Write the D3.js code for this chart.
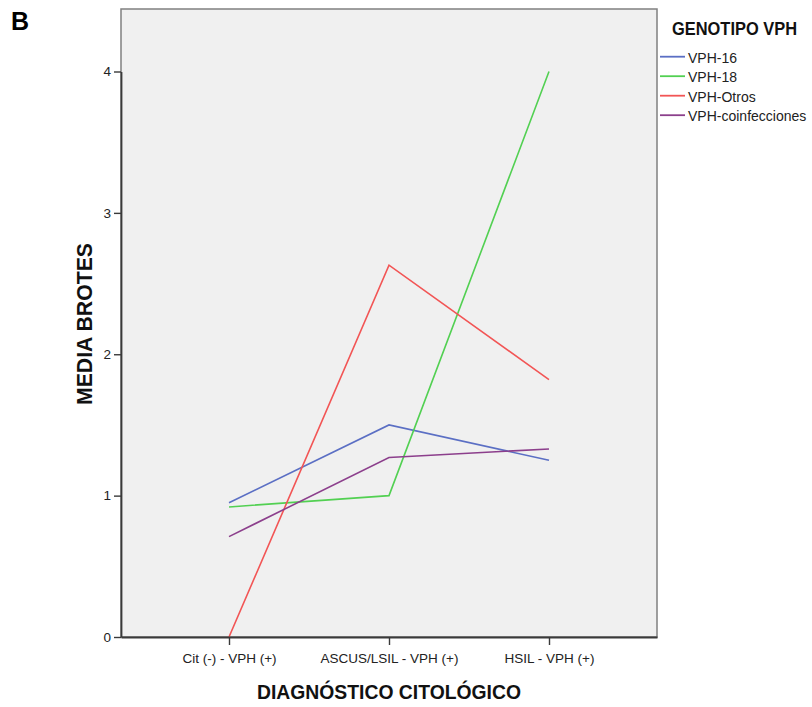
<!DOCTYPE html>
<html><head><meta charset="utf-8">
<script src="https://cdn.jsdelivr.net/npm/d3@7"></script>
<style>body{margin:0;background:#fff}svg{display:block}</style>
</head><body>
<script>
const categories = ["Cit (-) - VPH (+)", "ASCUS/LSIL - VPH (+)", "HSIL - VPH (+)"];
const seriesNames = ["VPH-16", "VPH-18", "VPH-Otros", "VPH-coinfecciones"];
const vph16 = [0.95, 1.50, 1.25];
const vph18 = [0.92, 1.00, 4.00];
const vphOtros = [0.00, 2.63, 1.82];
const vphCoinf = [0.71, 1.27, 1.33];
const yTicks = [0, 1, 2, 3, 4];
const colors = ["#5b6fc4", "#52d052", "#f25555", "#8c3f8c"];
const seriesValues = [vph16, vph18, vphOtros, vphCoinf];

const W = 812, H = 707;
const L = 121, R = 657, T = 9, B = 637;
const svg = d3.select("body").append("svg").attr("width", W).attr("height", H);
const font = "Liberation Sans, Arial, sans-serif";

const x = d3.scalePoint().domain(categories).range([L, R]).padding(0.675);
const y = d3.scaleLinear().domain([0, 4]).range([B, 71.5]);

svg.append("rect").attr("x", L).attr("y", T).attr("width", R - L).attr("height", B - T)
  .attr("fill", "#f0f0f0").attr("stroke", "#808080").attr("stroke-width", 1.5);

const line = d3.line().x((d, i) => x(categories[i])).y(d => y(d));
seriesValues.forEach((vals, k) => {
  svg.append("path").datum(vals).attr("d", line).attr("fill", "none")
    .attr("stroke", colors[k]).attr("stroke-width", 1.6);
});

const yAxis = svg.append("g").attr("transform", `translate(${L},0)`)
  .call(d3.axisLeft(y).tickValues(yTicks).tickSize(7).tickSizeOuter(0).tickPadding(3).tickFormat(d3.format("d")));
const xAxis = svg.append("g").attr("transform", `translate(0,${B})`)
  .call(d3.axisBottom(x).tickSize(8).tickSizeOuter(0).tickPadding(8));
[yAxis, xAxis].forEach(g => {
  g.select(".domain").attr("stroke", "#3a3a3a").attr("stroke-width", 1.8);
  g.selectAll(".tick line").attr("stroke", "#3a3a3a").attr("stroke-width", 1.4);
  g.selectAll("text").attr("fill", "#222").style("font-family", font).style("font-size", "13.5px");
});

svg.append("text").attr("x", 389).attr("y", 699).attr("text-anchor", "middle")
  .style("font-family", font).style("font-weight", "bold").style("font-size", "21px")
  .attr("textLength", 264).attr("lengthAdjust", "spacingAndGlyphs")
  .attr("fill", "#111").text("DIAGNÓSTICO CITOLÓGICO");

svg.append("text").attr("transform", "translate(92,324) rotate(-90)").attr("text-anchor", "middle")
  .style("font-family", font).style("font-weight", "bold").style("font-size", "22px")
  .attr("textLength", 162).attr("lengthAdjust", "spacingAndGlyphs")
  .attr("fill", "#111").text("MEDIA BROTES");

svg.append("text").attr("x", 11).attr("y", 30)
  .style("font-family", font).style("font-weight", "bold").style("font-size", "25px")
  .attr("fill", "#000").text("B");

svg.append("text").attr("x", 672).attr("y", 35)
  .style("font-family", font).style("font-weight", "bold").style("font-size", "18px")
  .attr("textLength", 125).attr("lengthAdjust", "spacingAndGlyphs")
  .attr("fill", "#111").text("GENOTIPO VPH");

const leg = svg.append("g");
seriesNames.forEach((n, k) => {
  const yy = 56.7 + k * 19.5;
  leg.append("line").attr("x1", 660).attr("x2", 685).attr("y1", yy).attr("y2", yy)
    .attr("stroke", colors[k]).attr("stroke-width", 1.8);
  leg.append("text").attr("x", 688).attr("y", yy + 6)
    .style("font-family", font).style("font-size", "14px").attr("fill", "#222").text(n);
});
</script>
</body></html>
